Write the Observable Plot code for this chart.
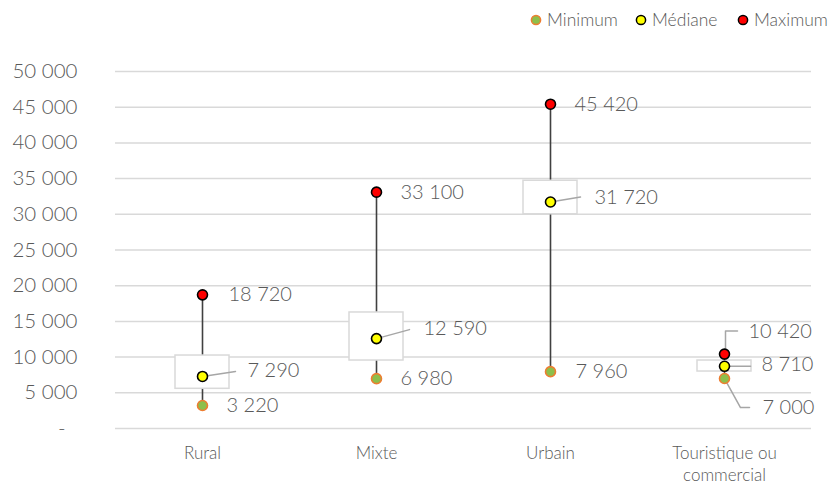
<!DOCTYPE html>
<html>
<head>
<meta charset="utf-8">
<script src="https://cdn.jsdelivr.net/npm/d3@7"></script>
<script src="https://cdn.jsdelivr.net/npm/@observablehq/plot@0.6"></script>
<style>
  body { margin: 0; background: #fff; font-family: Lato, "Open Sans", sans-serif; }
  #legend { height: 40px; width: 837px; position: relative; color: #595959; font-size: 17.5px; font-weight: 300; }
  #legend .item { position: absolute; top: 9px; display: flex; align-items: center; gap: 5px; white-space: nowrap; }
  #chart svg { display: block; }
</style>
</head>
<body>
<div id="legend"></div>
<div id="chart"></div>
<script>
// ---- data ----
const categories = ["Rural", "Mixte", "Urbain", "Touristique ou\ncommercial"];
const minimum = [3220, 6980, 7960, 7000];
const mediane = [7290, 12590, 31720, 8710];
const maximum = [18720, 33100, 45420, 10420];
const boxLow  = [5560, 9520, 30000, 7980];
const boxHigh = [10220, 16250, 34700, 9520];
const yTicks = [0, 5000, 10000, 15000, 20000, 25000, 30000, 35000, 40000, 45000, 50000];
const seriesNames = ["Minimum", "Médiane", "Maximum"];

// ---- layout (pixels) ----
const W = 837, H = 445, mL = 115, mR = 26, mT = 31, mB = 57;
const xPerPx = categories.length / (W - mL - mR);
const yPerPx = 50000 / (H - mT - mB);
const labelOff = {
  max: [[26, 0], [24, 0], [24, 0], [24, -23]],
  med: [[45, -6], [47, -10], [44, -4], [37, -2]],
  min: [[24, 0], [24, 0], [25, 0], [38, 29]]
};
const leaderOff = [
  {i: 0, s: "med", pts: [[0, 0], [33, -5]]},
  {i: 1, s: "med", pts: [[0, 0], [33, -9]]},
  {i: 2, s: "med", pts: [[0, 0], [30, -5]]},
  {i: 3, s: "med", pts: [[0, 0], [26, 0]]},
  {i: 3, s: "max", pts: [[1, 0], [1, -23], [13, -23]]},
  {i: 3, s: "min", pts: [[0, 0], [16, 29], [25, 29]]}
];
const style = {
  min: {fill: "#8DBF4B", stroke: "#ED7D31"},
  med: {fill: "#FFFF00", stroke: "#000000"},
  max: {fill: "#FF0000", stroke: "#000000"}
};
const textColor = "#595959";
const font = "Lato, 'Open Sans', sans-serif";

// ---- derived tables ----
const rows = categories.map((c, i) => ({i, cat: c, min: minimum[i], med: mediane[i], max: maximum[i], lo: boxLow[i], hi: boxHigh[i]}));
const fmt = v => d3.format(",")(v).replace(/,/g, " ");
const labels = [];
for (const s of ["max", "med", "min"]) {
  rows.forEach(r => {
    const [px, py] = labelOff[s][r.i];
    labels.push({x: r.i + px * xPerPx, y: r[s] - py * yPerPx, text: fmt(r[s])});
  });
}
const leaders = [];
leaderOff.forEach((l, k) => {
  const v = rows[l.i][l.s];
  l.pts.forEach(([px, py]) => leaders.push({k, x: l.i + px * xPerPx, y: v - py * yPerPx}));
});

const chart = Plot.plot({
  width: W, height: H,
  marginLeft: mL, marginRight: mR, marginTop: mT, marginBottom: mB,
  style: {fontFamily: font, color: textColor, background: "#fff"},
  x: {type: "linear", domain: [-0.5, categories.length - 0.5], axis: null},
  y: {domain: [0, 50000], axis: null},
  marks: [
    Plot.ruleY(yTicks, {stroke: "#d9d9d9", strokeWidth: 1.5}),
    Plot.axisY({ticks: yTicks, tickSize: 0, tickPadding: 38, fontSize: 20.5, fontWeight: 300, fill: textColor,
      tickFormat: d => d === 0 ? "-\u2007" : fmt(d), label: null}),
    Plot.axisX({ticks: d3.range(categories.length), tickSize: 0, tickPadding: 15, fontSize: 17, fontWeight: 300,
      fill: textColor, lineHeight: 1.3, tickFormat: i => categories[i], label: null}),
    Plot.ruleX(rows, {x: "i", y1: "min", y2: "max", stroke: "#404040", strokeWidth: 1.6}),
    Plot.rect(rows, {x1: d => d.i - 27 * xPerPx, x2: d => d.i + 27 * xPerPx, y1: "lo", y2: "hi",
      fill: "#ffffff", stroke: "#d9d9d9", strokeWidth: 1.5}),
    Plot.line(leaders, {x: "x", y: "y", z: "k", stroke: "#a6a6a6", strokeWidth: 1.5}),
    ...["min", "med", "max"].map(s => Plot.dot(rows, {x: "i", y: s, r: 5, fill: style[s].fill, stroke: style[s].stroke, strokeWidth: 1.6})),
    Plot.text(labels, {x: "x", y: "y", text: "text", textAnchor: "start",
      fontSize: 20, fontWeight: 300, fill: textColor})
  ]
});
document.getElementById("chart").appendChild(chart);

// legend
const legend = document.getElementById("legend");
const legPos = [530, 635, 737];
["min", "med", "max"].forEach((s, k) => {
  const it = document.createElement("div");
  it.className = "item";
  it.style.left = legPos[k] + "px";
  it.innerHTML = `<svg width="12" height="12"><circle cx="6" cy="6" r="4.6" fill="${style[s].fill}" stroke="${style[s].stroke}" stroke-width="1.5"/></svg><span>${seriesNames[k]}</span>`;
  legend.appendChild(it);
});
</script>
</body>
</html>
